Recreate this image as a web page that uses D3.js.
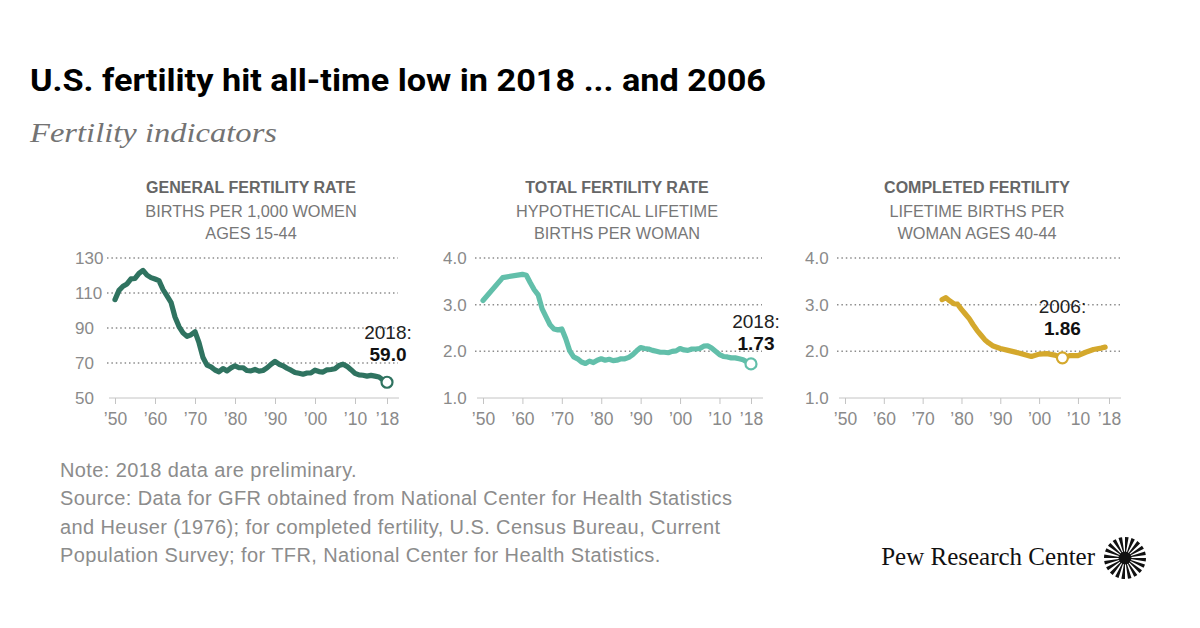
<!DOCTYPE html>
<html>
<head>
<meta charset="utf-8">
<script src="https://cdn.jsdelivr.net/npm/d3@7"></script>
<style>
  html, body { margin: 0; padding: 0; background: #fff; }
  svg { display: block; }
</style>
</head>
<body>
<svg id="chart" width="1200" height="628"></svg>
<script>
// ---------------- DATA ----------------
const titleText = "U.S. fertility hit all-time low in 2018 ... and 2006";
const subtitleText = "Fertility indicators";

const panelTitles = ["GENERAL FERTILITY RATE", "TOTAL FERTILITY RATE", "COMPLETED FERTILITY"];
const panelSub1 = ["BIRTHS PER 1,000 WOMEN", "HYPOTHETICAL LIFETIME", "LIFETIME BIRTHS PER"];
const panelSub2 = ["AGES 15-44", "BIRTHS PER WOMAN", "WOMAN AGES 40-44"];

const xTickYears = [1950, 1960, 1970, 1980, 1990, 2000, 2010, 2018];
const xTickLabels = ["\u201950", "\u201960", "\u201970", "\u201980", "\u201990", "\u201900", "\u201910", "\u201918"];

const gfrTicks = [50, 70, 90, 110, 130];
const gfrTickLabels = ["50", "70", "90", "110", "130"];
const rateTicks = [1, 2, 3, 4];
const rateTickLabels = ["1.0", "2.0", "3.0", "4.0"];

// General fertility rate, births per 1,000 women ages 15-44
const gfrYears = [
  1950,1951,1952,1953,1954,1955,1956,1957,1958,1959,
  1960,1961,1962,1963,1964,1965,1966,1967,1968,1969,
  1970,1971,1972,1973,1974,1975,1976,1977,1978,1979,
  1980,1981,1982,1983,1984,1985,1986,1987,1988,1989,
  1990,1991,1992,1993,1994,1995,1996,1997,1998,1999,
  2000,2001,2002,2003,2004,2005,2006,2007,2008,2009,
  2010,2011,2012,2013,2014,2015,2016,2017,2018];
const gfrValues = [
  106.2,111.5,113.9,115.2,118.1,118.3,121.2,122.9,120.2,118.8,
  118.0,117.1,112.0,108.3,104.7,96.3,90.8,87.2,85.2,86.1,
  87.9,81.6,73.1,68.8,67.8,66.0,65.0,66.8,65.5,67.2,
  68.4,67.3,67.3,65.7,65.5,66.3,65.4,65.7,67.2,69.2,
  70.9,69.3,68.4,67.0,65.9,64.6,64.1,63.6,64.3,64.4,
  65.9,65.1,64.8,66.1,66.3,66.7,68.6,69.3,68.1,66.2,
  64.1,63.2,63.0,62.5,62.9,62.5,62.0,60.3,59.0];

// Total fertility rate, hypothetical lifetime births per woman
const tfrYears = [
  1950,1955,
  1960,1961,1962,1963,1964,1965,1966,1967,1968,1969,
  1970,1971,1972,1973,1974,1975,1976,1977,1978,1979,
  1980,1981,1982,1983,1984,1985,1986,1987,1988,1989,
  1990,1991,1992,1993,1994,1995,1996,1997,1998,1999,
  2000,2001,2002,2003,2004,2005,2006,2007,2008,2009,
  2010,2011,2012,2013,2014,2015,2016,2017,2018];
const tfrValues = [
  3.09,3.58,
  3.65,3.63,3.47,3.32,3.21,2.91,2.74,2.57,2.48,2.46,
  2.48,2.27,2.01,1.88,1.84,1.77,1.74,1.79,1.76,1.81,
  1.84,1.81,1.83,1.80,1.81,1.84,1.84,1.87,1.93,2.01,
  2.08,2.06,2.05,2.02,2.00,1.98,1.98,1.97,2.00,2.01,
  2.06,2.03,2.02,2.05,2.05,2.06,2.11,2.12,2.07,2.00,
  1.93,1.89,1.88,1.86,1.86,1.84,1.82,1.77,1.73];

// Completed fertility, lifetime births per woman ages 40-44
const cfYears = [1975,1976,1977,1978,1979,1980,1981,1982,1983,1984,1985,1986,1987,1988,
  1990,1992,1995,1998,2000,2002,2004,2006,2008,2010,2012,2014,2016,2017];
const cfValues = [3.11,3.15,3.08,3.02,3.01,2.90,2.80,2.70,2.57,2.45,2.35,2.25,2.18,2.12,
  2.06,2.02,1.96,1.89,1.94,1.95,1.92,1.86,1.91,1.91,1.98,2.04,2.07,2.09];

const markYears = [2018, 2018, 2006];
const markValues = [59.0, 1.73, 1.86];
const markLabelTop = ["2018:", "2018:", "2006:"];
const markLabelBold = ["59.0", "1.73", "1.86"];

const noteLines = [
  "Note: 2018 data are preliminary.",
  "Source: Data for GFR obtained from National Center for Health Statistics",
  "and Heuser (1976); for completed fertility, U.S. Census Bureau, Current",
  "Population Survey; for TFR, National Center for Health Statistics."
];
const logoText = "Pew Research Center";

// ---------------- LAYOUT ----------------
const svg = d3.select("#chart");
svg.append("rect").attr("width", 1200).attr("height", 628).attr("fill", "#fff");

const bodyFont = "'Liberation Sans', Arial, sans-serif";

// Title (condensed look)
svg.append("text")
  .attr("x", 30).attr("y", 91)
  .attr("font-family", "'Liberation Sans Narrow', Roboto, sans-serif")
  .attr("font-weight", 700).attr("font-size", 31)
  .attr("fill", "#000")
  .attr("textLength", 736).attr("lengthAdjust", "spacingAndGlyphs")
  .text(titleText);

svg.append("text")
  .attr("x", 30).attr("y", 142)
  .attr("font-family", "'Liberation Serif', Georgia, serif")
  .attr("font-style", "italic").attr("font-size", 27)
  .attr("fill", "#737373")
  .attr("textLength", 247).attr("lengthAdjust", "spacingAndGlyphs")
  .text(subtitleText);

const panels = [
  { x0: 115, w: 272, years: gfrYears, values: gfrValues, domain: [50, 130], ticks: gfrTicks, tickLabels: gfrTickLabels, color: "#2f7360", dx: 1, dy: -43 },
  { x0: 483, w: 268, years: tfrYears, values: tfrValues, domain: [1, 4], ticks: rateTicks, tickLabels: rateTickLabels, color: "#62bfaa", dx: 5, dy: -36 },
  { x0: 845, w: 264, years: cfYears, values: cfValues, domain: [1, 4], ticks: rateTicks, tickLabels: rateTickLabels, color: "#d4a82c", dx: 0, dy: -45 }
];

const yTop = 258, yBot = 398;

panels.forEach((p, i) => {
  const g = svg.append("g");
  const x = d3.scaleLinear().domain([1950, 2018]).range([p.x0, p.x0 + p.w]);
  const y = d3.scaleLinear().domain(p.domain).range([yBot, yTop]);
  const cx = p.x0 + p.w / 2;

  // headers
  g.append("text").attr("x", cx).attr("y", 193).attr("text-anchor", "middle")
    .attr("font-family", bodyFont).attr("font-weight", 700).attr("font-size", 16)
    .attr("fill", "#666").text(panelTitles[i]);
  g.append("text").attr("x", cx).attr("y", 216.5).attr("text-anchor", "middle")
    .attr("font-family", bodyFont).attr("font-size", 16.3)
    .attr("fill", "#777").text(panelSub1[i]);
  g.append("text").attr("x", cx).attr("y", 239).attr("text-anchor", "middle")
    .attr("font-family", bodyFont).attr("font-size", 16.3)
    .attr("fill", "#777").text(panelSub2[i]);

  // gridlines (dotted), skipping baseline
  const gx0 = p.x0 - 8, gx1 = p.x0 + p.w + 11;
  p.ticks.forEach((t, k) => {
    if (k > 0) {
      g.append("line").attr("x1", gx0).attr("x2", gx1)
        .attr("y1", y(t)).attr("y2", y(t))
        .attr("stroke", "#8c8c8c").attr("stroke-width", 1.5)
        .attr("stroke-dasharray", "1.5,2.9");
    }
    g.append("text").attr("x", p.x0 - 40).attr("y", y(t) + 6)
      .attr("font-family", bodyFont).attr("font-size", 17)
      .attr("fill", "#8a8a8a").text(p.tickLabels[k]);
  });

  // x axis via d3.axisBottom
  const axis = d3.axisBottom(x).tickValues(xTickYears)
    .tickFormat((d, k) => xTickLabels[k]).tickSize(6).tickSizeOuter(0);
  const ag = g.append("g").attr("transform", `translate(0,${yBot})`).call(axis);
  ag.select(".domain").remove();
  ag.selectAll(".tick line").attr("stroke", "#c4c4c4").attr("stroke-width", 1);
  ag.selectAll(".tick text").attr("font-family", bodyFont).attr("font-size", 17.5)
    .attr("fill", "#8a8a8a").attr("dy", 0).attr("y", 27);
  g.append("line").attr("x1", p.x0 - 6).attr("x2", gx1 + 1)
    .attr("y1", yBot).attr("y2", yBot).attr("stroke", "#c4c4c4").attr("stroke-width", 1);

  // line
  const pts = p.years.map((yr, k) => [yr, p.values[k]]);
  const line = d3.line().x(d => x(d[0])).y(d => y(d[1]));
  g.append("path").datum(pts).attr("d", line)
    .attr("fill", "none").attr("stroke", p.color).attr("stroke-width", 5.2)
    .attr("stroke-linejoin", "round").attr("stroke-linecap", "round");

  // marker
  const mx = x(markYears[i]), my = y(markValues[i]);
  g.append("circle").attr("cx", mx).attr("cy", my).attr("r", 5.5)
    .attr("fill", "#fff").attr("stroke", p.color).attr("stroke-width", 2.2);

  g.append("text").attr("x", mx + p.dx).attr("y", my + p.dy).attr("text-anchor", "middle")
    .attr("font-family", bodyFont).attr("font-size", 19).attr("fill", "#222")
    .text(markLabelTop[i]);
  g.append("text").attr("x", mx + p.dx).attr("y", my + p.dy + 22).attr("text-anchor", "middle")
    .attr("font-family", bodyFont).attr("font-weight", 700).attr("font-size", 19).attr("fill", "#111")
    .text(markLabelBold[i]);
});

// notes
noteLines.forEach((t, k) => {
  svg.append("text").attr("x", 60).attr("y", 477 + k * 28.3)
    .attr("font-family", bodyFont).attr("font-size", 20).attr("letter-spacing", 0.4)
    .attr("fill", "#8c8c8c")
    .text(t);
});

// logo
svg.append("text").attr("x", 1095).attr("y", 565).attr("text-anchor", "end")
  .attr("font-family", "'Liberation Serif', Georgia, serif").attr("font-size", 25)
  .attr("fill", "#111").text(logoText);

const logo = svg.append("g").attr("transform", "translate(1125,558)");
const nRays = 20;
const arc = d3.arc().innerRadius(3).outerRadius(21);
d3.range(nRays).forEach(k => {
  const a0 = (k / nRays) * 2 * Math.PI;
  logo.append("path").attr("d", arc({ startAngle: a0, endAngle: a0 + (2 * Math.PI / nRays) * 0.55 }))
    .attr("fill", "#111");
});
logo.append("circle").attr("r", 6.5).attr("fill", "#111");
</script>
</body>
</html>
